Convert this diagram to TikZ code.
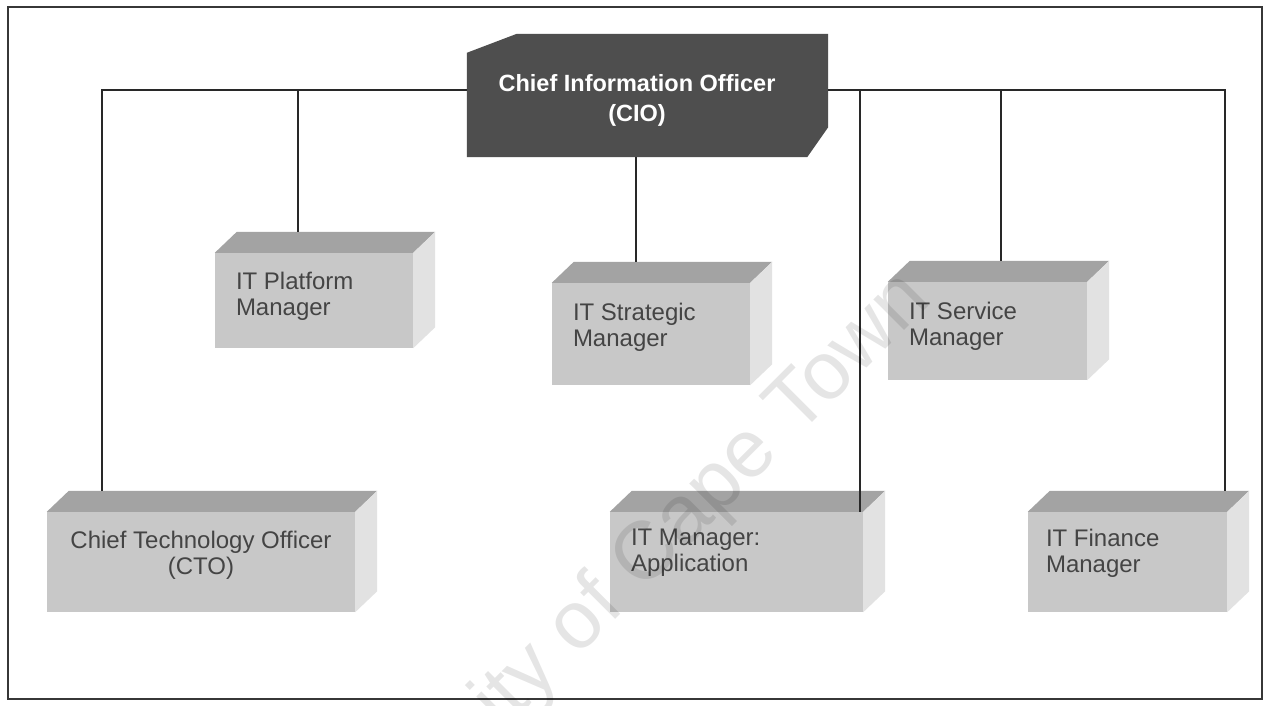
\documentclass[tikz,border=0pt]{standalone}
\usepackage{fontspec}
\setmainfont{Liberation Sans}
\usetikzlibrary{calc}

\definecolor{frontgray}{RGB}{200,200,200}
\definecolor{topgray}{RGB}{163,163,163}
\definecolor{sidegray}{RGB}{226,226,226}
\definecolor{ciogray}{RGB}{78,78,78}
\definecolor{labelgray}{RGB}{68,68,68}
\definecolor{linegray}{RGB}{40,40,40}
\definecolor{framegray}{RGB}{55,55,55}

% top and right faces of a box whose front face is the node #1
\newcommand\cubefaces[1]{%
  \fill[topface] (#1.north west) -- ($(#1.north west)+(22,-21)$)
    -- ($(#1.north east)+(22,-21)$) -- (#1.north east) -- cycle;
  \fill[sideface] (#1.north east) -- ($(#1.north east)+(22,-21)$)
    -- ($(#1.south east)+(22,-21)$) -- (#1.south east) -- cycle;}

\begin{document}
\begin{tikzpicture}[x=1pt,y=-1pt,
  front/.style={rectangle, fill=frontgray, inner sep=0pt},
  topface/.style={fill=topgray},
  sideface/.style={fill=sidegray},
  conn/.style={draw=linegray, line width=1.1pt},
  lbl/.style={anchor=north west, inner sep=0pt, align=left, text=labelgray,
    font=\fontsize{24}{26}\selectfont},
]
\useasboundingbox (0,0) rectangle (1269,705);
\fill[white] (0,0) rectangle (1269,705);

% outer frame
\draw[framegray, line width=2.6pt] (8,7) rectangle (1262,699);

% CIO box
\node[rectangle, inner sep=0pt, minimum width=361pt, minimum height=123pt] (cio) at (647.5,95.5) {};
\fill[ciogray] ($(cio.north west)+(0,19)$) -- ($(cio.north west)+(50,0)$)
  -- (cio.north east) -- ($(cio.south east)+(0,-30)$)
  -- ($(cio.south east)+(-21,0)$) -- (cio.south west) -- cycle;
\node[anchor=north, inner sep=0pt, align=center, text=white,
  font=\bfseries\fontsize{23.5}{30}\selectfont] (ciotext) at (637,74)
  {Chief Information Officer\\(CIO)};

% direct reports
\node[front, minimum width=198pt, minimum height=95pt]  (plat)  at (314,300.5) {};
\node[front, minimum width=198pt, minimum height=102pt] (strat) at (651,334) {};
\node[front, minimum width=199pt, minimum height=98pt]  (serv)  at (987.5,331) {};
\node[front, minimum width=308pt, minimum height=100pt] (cto)   at (201,562) {};
\node[front, minimum width=253pt, minimum height=100pt] (app)   at (736.5,562) {};
\node[front, minimum width=199pt, minimum height=100pt] (fin)   at (1127.5,562) {};
\cubefaces{plat}
\cubefaces{strat}
\cubefaces{serv}
\cubefaces{cto}
\cubefaces{app}
\cubefaces{fin}

\node[lbl] (plattext)  at ($(plat.north west)+(21,19)$)  {IT Platform\\Manager};
\node[lbl] (strattext) at ($(strat.north west)+(21,20)$) {IT Strategic\\Manager};
\node[lbl] (servtext)  at ($(serv.north west)+(21,20)$)  {IT Service\\Manager};
\node[lbl, anchor=north, align=center] (ctotext) at ($(cto.north)+(0,19)$)
  {Chief Technology Officer\\(CTO)};
\node[lbl] (apptext)   at ($(app.north west)+(21,17)$)   {IT Manager:\\Application};
\node[lbl] (fintext)   at ($(fin.north west)+(18,17)$)   {IT Finance\\Manager};

% reporting lines
\coordinate (busL) at (102,90);
\coordinate (busR) at (1225,90);
\coordinate (xP) at (298,90);
\coordinate (xS) at (636,90);
\coordinate (xA) at (860,90);
\coordinate (xV) at (1001,90);
\draw[conn] (cio.west |- busL) -- (busL) -- ($(busL |- cto.north)+(0,-21)$);
\draw[conn] (cio.east |- busR) -- (busR) -- ($(busR |- fin.north)+(0,-21)$);
\draw[conn] (xP) -- ($(xP |- plat.north)+(0,-21)$);
\draw[conn] (xS |- cio.south) -- ($(xS |- strat.north)+(0,-21)$);
\draw[conn] (xA) -- (xA |- app.north);
\draw[conn] (xV) -- ($(xV |- serv.north)+(0,-21)$);

% watermark
\node[rotate=45, inner sep=0pt, text=black, text opacity=0.1,
  font=\fontsize{82}{82}\selectfont] (mark) at (605,600) {University of Cape Town};
\end{tikzpicture}
\end{document}
